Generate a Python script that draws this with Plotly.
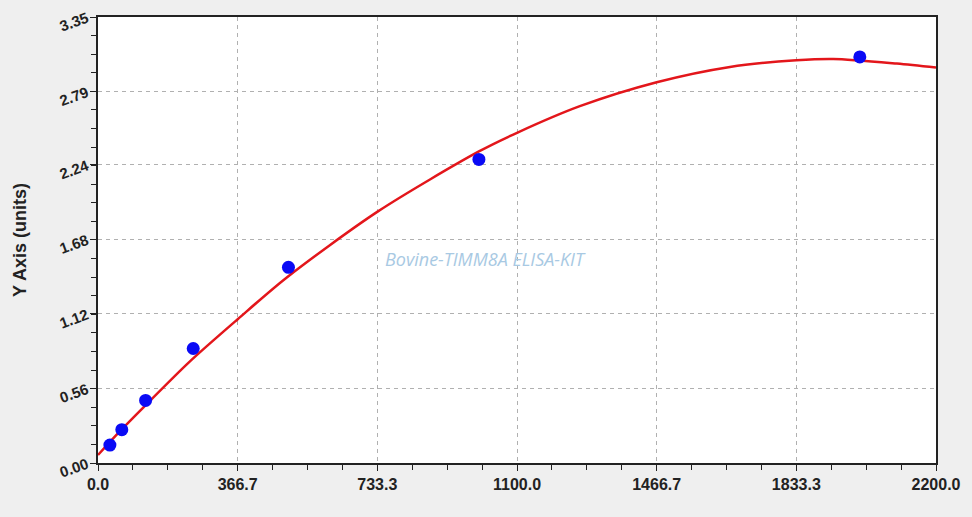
"""Standard curve chart for a Bovine TIMM8A ELISA kit."""
import plotly.graph_objects as go

# ── Data ────────────────────────────────────────────────────────────────────
conc = [31.25, 62.5, 125, 250, 500, 1000, 2000]
od = [0.135, 0.25, 0.47, 0.86, 1.47, 2.28, 3.05]

fit_x = [0, 56.5, 120, 240, 366.7, 494, 735, 1000, 1100, 1265, 1466.7, 1659, 1833.3, 1930, 2097, 2200]
fit_y = [0.06, 0.235, 0.42, 0.76, 1.08, 1.39, 1.89, 2.34, 2.48, 2.68, 2.86, 2.975, 3.025, 3.035, 3.00, 2.97]

x_ticks = [0, 366.7, 733.3, 1100.0, 1466.7, 1833.3, 2200.0]
x_labels = ["0.0", "366.7", "733.3", "1100.0", "1466.7", "1833.3", "2200.0"]
y_ticks = [0.0, 0.56, 1.12, 1.68, 2.24, 2.79, 3.35]
y_labels = ["0.00", "0.56", "1.12", "1.68", "2.24", "2.79", "3.35"]

fig = go.Figure()

# ── Fitted curve ────────────────────────────────────────────────────────────
fig.add_trace(go.Scatter(
    x=fit_x, y=fit_y, mode="lines", line_shape="spline",
    line=dict(color="#e3161b", width=2.5, smoothing=0.8), showlegend=False,
))

# ── Standards ───────────────────────────────────────────────────────────────
fig.add_trace(go.Scatter(
    x=conc, y=od, mode="markers",
    marker=dict(color="#0a0af5", size=13), showlegend=False,
))

fig.add_annotation(
    x=0.462, y=0.458, xref="paper", yref="paper",
    text="Bovine-TIMM8A ELISA-KIT", showarrow=False,
    font=dict(family="Open Sans", size=18, color="#a8c9e3", style="italic"),
)

grid = dict(showgrid=True, gridcolor="#b0b0b0", griddash="4px,4px", gridwidth=1)

fig.update_xaxes(
    range=[0, 2200], tickvals=x_ticks, ticktext=x_labels,
    tickfont=dict(family="Liberation Sans", size=16, color="#222222", weight="bold"),
    ticks="outside", ticklen=6, tickcolor="#222",
    minor=dict(dtick=91.675, ticks="outside", ticklen=5, tickcolor="#222", showgrid=False),
    showline=True, linecolor="#222", linewidth=2, mirror=True,
    zeroline=False, **grid,
)
fig.update_yaxes(
    range=[0, 3.35], tickvals=y_ticks, ticktext=y_labels,
    tickfont=dict(family="Liberation Sans", size=15, color="#222222", weight="bold"),
    tickangle=-20, ticks="outside", ticklen=6, tickcolor="#222",
    minor=dict(dtick=0.1396, ticks="outside", ticklen=5, tickcolor="#222", showgrid=False),
    showline=True, linecolor="#222", linewidth=2, mirror=True,
    zeroline=False, **grid,
    title=dict(text="Y Axis (units)", font=dict(family="Liberation Sans", size=18,
                                                   color="#222222", weight="bold"),
               standoff=26),
)

fig.update_layout(
    width=972, height=517,
    paper_bgcolor="#efefef", plot_bgcolor="#ffffff",
    margin=dict(l=98, r=36, t=17, b=54, autoexpand=False),
)

# page body has a default margin; drop it so the figure sits at the corner
fig.write_html("out.html", config={"displayModeBar": False},
               post_script="document.body.style.margin='0';")
